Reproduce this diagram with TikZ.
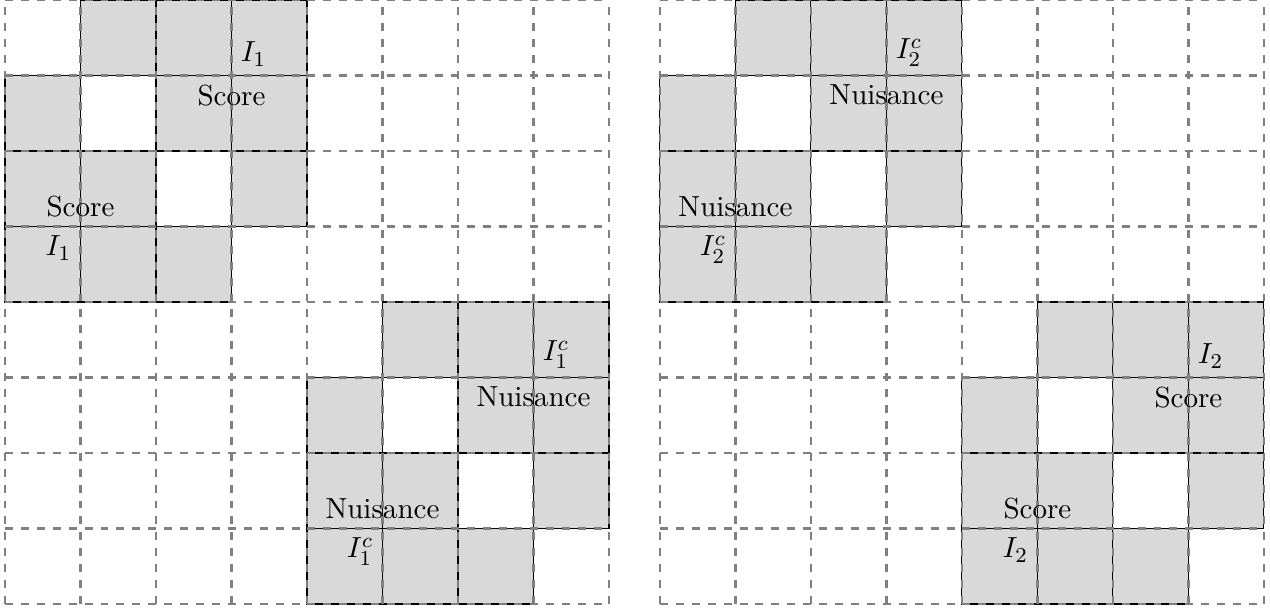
\documentclass[tikz,border=0pt]{standalone}
\usetikzlibrary{positioning}

\tikzset{
  cellfill/.style={fill=gray!30, draw=black},
  gridline/.style={gray, line width=1pt, dashed},
  every node/.style={font=\fontsize{10.95}{13.6}\selectfont}
}

\begin{document}
\begin{tikzpicture}
            \useasboundingbox (-0.066,-0.068) rectangle (16.755,8.0);

            % Left panel: I_1 scores, I_1^c nuisance
            \begin{scope}
                % Shaded blocks (off-diagonal cells)
                \foreach \r in {0,...,3} {
                    \foreach \c in {0,...,3} {
                        \ifnum\r=\c\else
                            \draw[cellfill] (\c,7-\r) rectangle ++(1,1);
                            \draw[cellfill] (4+\c,3-\r) rectangle ++(1,1);
                        \fi
                    }
                }

                % Grid
                \draw[gridline] (0,0) grid (8,8);

                % Labels
                \coordinate (La) at (3,7);
                \coordinate (Lb) at (1,5);
                \coordinate (Lc) at (7,3);
                \coordinate (Ld) at (5,1);
                \node[above right] (LaI) at (La) {$I_1$};
                \node[below] (LaS) at (La) {Score};
                \node[above] (LbS) at (Lb) {Score};
                \node[below left] (LbI) at (Lb) {$I_1$};
                \node[above right] (LcI) at (Lc) {$I_1^c$};
                \node[below] (LcN) at (Lc) {Nuisance};
                \node[above] (LdN) at (Ld) {Nuisance};
                \node[below left] (LdI) at (Ld) {$I_1^c$};
            \end{scope}

            % Right panel: I_2^c nuisance, I_2 scores
            \begin{scope}[xshift=8.675cm]
                % Shaded blocks (off-diagonal cells)
                \foreach \r in {0,...,3} {
                    \foreach \c in {0,...,3} {
                        \ifnum\r=\c\else
                            \draw[cellfill] (\c,7-\r) rectangle ++(1,1);
                            \draw[cellfill] (4+\c,3-\r) rectangle ++(1,1);
                        \fi
                    }
                }

                % Grid
                \draw[gridline] (0,0) grid (8,8);

                % Labels
                \coordinate (Ra) at (3,7);
                \coordinate (Rb) at (1,5);
                \coordinate (Rc) at (7,3);
                \coordinate (Rd) at (5,1);
                \node[above right] (RaI) at (Ra) {$I_2^c$};
                \node[below] (RaN) at (Ra) {Nuisance};
                \node[above] (RbN) at (Rb) {Nuisance};
                \node[below left] (RbI) at (Rb) {$I_2^c$};
                \node[above right] (RcI) at (Rc) {$I_2$};
                \node[below] (RcS) at (Rc) {Score};
                \node[above] (RdS) at (Rd) {Score};
                \node[below left] (RdI) at (Rd) {$I_2$};
            \end{scope}
        \end{tikzpicture}
\end{document}
